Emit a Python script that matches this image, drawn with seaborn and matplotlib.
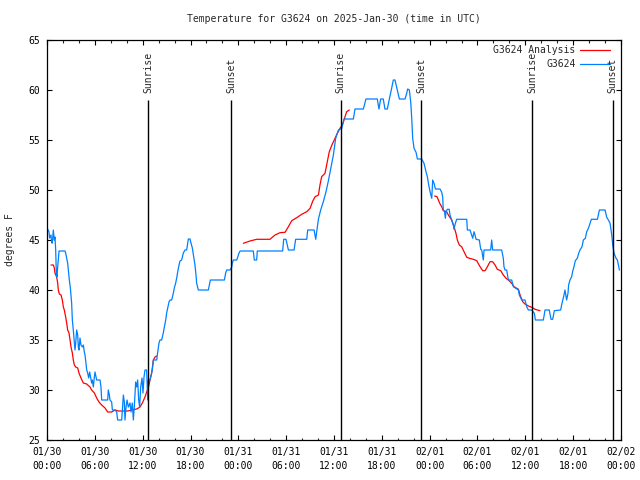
import pandas as pd
import matplotlib
matplotlib.use("Agg")
import matplotlib.pyplot as plt
import seaborn as sns

# hours since 2025-01-30 00:00 UTC
obs_hours = [
    0.08, 0.25, 0.33, 0.5, 0.59, 0.67, 0.79, 0.92, 1.0, 1.09, 1.17, 1.25, 1.34, 1.42, 1.51,
    2.26, 2.34, 2.47, 2.59, 2.68, 2.80, 2.93, 3.09, 3.18, 3.30, 3.43, 3.51, 3.60, 3.72,
    3.85, 3.93, 4.01, 4.14, 4.26, 4.43, 4.56, 4.68, 4.77, 4.98, 5.10, 5.23, 5.35, 5.48,
    5.60, 5.69, 5.81, 5.94, 6.02, 6.10, 6.23, 6.65, 6.77, 6.86, 7.61, 7.69, 7.82, 7.90,
    8.11, 8.20, 8.53, 8.74, 8.86, 9.37, 9.45, 9.58, 9.70, 9.78, 9.91, 10.04, 10.20, 10.41,
    10.54, 10.70, 10.83, 10.95, 11.12, 11.25, 11.37, 11.50, 11.62, 11.75, 11.92, 12.04,
    12.17, 12.29, 12.50, 12.63, 12.71, 12.92, 13.13, 13.21, 13.34, 13.76, 13.84, 13.97,
    14.05, 14.17, 14.38, 14.59, 14.72, 14.89, 15.01, 15.14, 15.30, 15.43, 15.64, 15.85,
    15.97, 16.14, 16.27, 16.39, 16.56, 16.68, 16.89, 17.10, 17.31, 17.52, 17.65, 17.73,
    17.94, 18.06, 18.23, 18.40, 18.56, 18.69, 18.77, 18.98, 20.24, 20.36, 20.49, 22.25,
    22.41, 22.54, 22.96, 23.17, 23.25, 23.38, 23.80, 23.92, 24.09, 24.22, 25.88, 26.0,
    26.3, 26.38, 29.56, 29.69, 29.98, 30.28, 30.99, 31.19, 32.58, 32.70, 33.50, 33.71,
    33.83, 34.05, 34.33, 34.66, 35.0, 35.29, 35.58, 35.92, 36.21, 36.55, 36.97, 37.26,
    38.43, 38.63, 39.68, 40.01, 41.43, 41.64, 41.85, 42.18, 42.39, 42.69, 42.94, 43.23,
    43.44, 43.65, 43.94, 44.20, 44.91, 45.12, 45.24, 45.45, 45.62, 45.75, 45.87, 46.04,
    46.29, 46.46, 47.0, 47.29, 47.54, 47.71, 47.88, 48.05, 48.26, 48.38, 48.55, 48.72,
    49.30, 49.51, 49.63, 49.71, 49.85, 49.97, 50.05, 50.22, 50.45, 50.55, 50.76, 50.97,
    51.05, 51.17, 51.30, 51.38, 52.65, 52.73, 53.06, 53.27, 53.40, 53.56, 53.69, 53.82,
    54.23, 54.40, 54.53, 54.73, 54.82, 55.65, 55.78, 55.90, 57.03, 57.24, 57.32, 57.45,
    57.66, 57.87, 58.29, 58.50, 59.13, 59.25, 59.55, 59.96, 60.17, 60.38, 60.80, 61.13,
    61.26, 62.26, 62.47, 63.0, 63.22, 63.43, 63.64, 64.43, 64.60, 64.85, 64.97, 65.18,
    65.35, 65.43, 65.60, 65.81, 65.93, 66.10, 66.27, 66.52, 66.69, 66.86, 67.11, 67.28,
    67.53, 67.70, 67.91, 68.11, 68.28, 69.04, 69.29, 70.0, 70.21, 70.42, 70.63, 70.84,
    70.96, 71.13, 71.38, 71.55, 71.80,
]
obs_temps = [
    46.1, 45.8, 45.2, 45.5, 44.7, 44.7, 46.0, 45.0, 45.3, 44.0, 41.7, 41.3, 42.3, 43.0, 43.9,
    43.9, 43.7, 43.2, 42.7, 42.0, 41.0, 40.2, 38.7, 37.0, 36.0, 34.7, 34.0, 34.7, 36.0,
    35.5, 34.3, 34.0, 35.2, 34.5, 34.3, 34.5, 33.8, 33.5, 32.0, 31.7, 31.2, 31.8, 31.2,
    30.7, 31.0, 30.3, 31.3, 31.8, 31.5, 31.0, 31.0, 30.3, 29.0, 29.0, 30.0, 29.5, 29.0,
    28.8, 28.0, 28.0, 27.8, 27.0, 27.0, 28.0, 29.5, 28.8, 27.0, 28.3, 29.0, 28.3, 28.7,
    27.8, 28.7, 27.0, 28.3, 30.8, 30.3, 31.0, 29.0, 28.3, 30.3, 31.2, 29.7,
    31.3, 32.0, 32.0, 29.0, 31.0, 31.0, 31.7, 32.0, 33.0, 33.0, 33.5, 34.2,
    34.7, 35.0, 35.0, 35.7, 36.3, 37.0, 37.7, 38.2, 38.8, 39.0, 39.0, 39.7,
    40.2, 40.7, 41.2, 41.8, 42.5, 42.9, 43.0, 43.7, 44.0, 44.0, 44.7, 45.1,
    45.1, 44.7, 44.2, 43.3, 42.5, 41.5, 40.7, 40.0, 40.0, 40.5, 41.0, 41.0,
    41.7, 42.0, 42.0, 42.3, 42.7, 43.0, 43.0, 43.3, 43.7, 43.9, 43.9, 43.0,
    43.0, 43.9, 43.9, 45.07, 45.07, 44.0, 44.0, 45.07, 45.07, 46.0, 46.0, 45.07,
    45.83, 47.1, 48.0, 48.83, 49.83, 50.9, 52.1, 53.5, 55.17, 56.0, 56.17, 57.1,
    57.1, 58.1, 58.1, 59.1, 59.1, 58.1, 59.1, 59.1, 58.1, 58.1, 59.1, 60.17,
    61.0, 61.0, 60.0, 59.1, 59.1, 59.67, 60.1, 60.0, 58.83, 57.17, 55.17, 54.17,
    53.77, 53.1, 53.1, 52.67, 51.83, 51.33, 50.5, 49.83, 49.17, 51.0, 50.67, 50.1,
    50.1, 49.77, 49.33, 48.0, 47.9, 47.17, 47.83, 48.07, 48.07, 47.5, 47.0, 46.5,
    46.07, 46.5, 46.83, 47.07, 47.07, 46.0, 46.0, 45.5, 45.17, 45.83, 45.5, 45.07,
    45.0, 44.07, 44.0, 43.0, 44.0, 44.0, 45.0, 44.0, 44.0, 43.17, 42.33, 42.0,
    42.0, 41.0, 41.0, 40.33, 40.0, 39.5, 39.0, 39.0, 38.33, 38.0, 38.0, 37.67,
    37.0, 37.0, 38.0, 38.0, 37.07, 37.07, 37.93, 38.0, 38.67, 39.5, 40.0, 39.0,
    39.67, 40.5, 41.0, 41.33, 41.83, 42.33, 42.93, 43.17, 43.67, 44.0, 44.33, 45.0,
    45.17, 45.83, 46.17, 46.67, 47.07, 47.07, 48.0, 48.0, 47.27, 47.0, 46.67, 45.5,
    44.5, 43.67, 43.17, 43.0, 42.0,
]

# analysis only exists in three pieces
ana1_hours = [0.50, 0.79, 0.92, 1.0, 1.21, 1.34, 1.42, 1.55, 1.76, 1.92, 2.05, 2.17, 2.34,
              2.47, 2.59, 2.76, 2.89, 3.01, 3.18, 3.30, 3.43, 3.60, 3.85, 4.01, 4.26, 4.56,
              4.98, 5.39, 5.60, 5.94, 6.23, 6.52, 6.86, 7.28, 7.61, 8.11, 8.53, 8.95, 9.58,
              10.12, 10.62, 11.25, 11.67, 11.96, 12.29, 12.50, 12.71, 12.92, 13.13, 13.34,
              13.55, 13.76]
ana1_temps = [42.5, 42.5, 42.2, 41.7, 41.3, 40.7, 40.0, 39.6, 39.5, 39.0, 38.3, 38.0, 37.3,
              36.7, 36.0, 35.7, 35.0, 34.3, 33.7, 33.0, 32.5, 32.3, 32.2, 31.7, 31.2, 30.7,
              30.6, 30.3, 30.0, 29.7, 29.2, 28.8, 28.5, 28.2, 27.8, 27.8, 28.0, 27.9, 27.9,
              27.9, 28.0, 28.1, 28.3, 28.7, 29.3, 29.8, 30.2, 31.0, 31.7, 33.0,
              33.3, 33.4]
ana2_hours = [24.63, 25.46, 26.30, 27.97, 28.60, 29.23, 29.86, 30.28, 30.70, 31.32, 31.95,
              32.58, 33.0, 33.34, 33.63, 34.05, 34.24, 34.45, 34.87, 35.16, 35.41, 35.70,
              36.13, 36.42, 36.75, 37.05, 37.25, 37.59, 37.92]
ana2_temps = [44.67, 44.9, 45.07, 45.07, 45.5, 45.73, 45.77, 46.33, 46.93, 47.23, 47.57,
              47.83, 48.17, 48.9, 49.33, 49.5, 50.5, 51.33, 51.67, 52.83, 53.83, 54.43,
              55.17, 55.67, 56.17, 56.5, 57.0, 57.83, 58.0]
ana3_hours = [48.63, 48.92, 49.26, 49.51, 49.71, 50.13, 50.34, 50.76, 51.05, 51.30, 51.47,
              51.72, 52.01, 52.31, 52.65, 52.98, 53.48, 53.90, 54.32, 54.65, 54.95, 55.24,
              55.57, 55.90, 56.20, 56.49, 56.91, 57.24, 57.58, 57.87, 58.29, 58.58, 59.13,
              59.34, 59.67, 59.96, 60.38, 60.80, 61.22, 61.84]
ana3_temps = [49.4, 49.33, 48.67, 48.33, 47.93, 47.83, 47.5, 47.0, 46.33, 45.67, 45.0,
              44.5, 44.33, 43.83, 43.27, 43.17, 43.07, 42.93, 42.33, 41.93, 41.93, 42.33,
              42.83, 42.83, 42.5, 42.07, 41.93, 41.5, 41.17, 41.0, 40.67, 40.33, 40.07,
              39.5, 38.83, 38.6, 38.4, 38.27, 38.07, 37.93]

sun_hours = [12.73, 23.07, 36.82, 46.95, 60.85, 70.97]
sun_labels = ["Sunrise", "Sunset", "Sunrise", "Sunset", "Sunrise", "Sunset"]

tick_hours = list(range(0, 73, 6))
tick_labels = ["01/30\n00:00", "01/30\n06:00", "01/30\n12:00", "01/30\n18:00",
               "01/31\n00:00", "01/31\n06:00", "01/31\n12:00", "01/31\n18:00",
               "02/01\n00:00", "02/01\n06:00", "02/01\n12:00", "02/01\n18:00",
               "02/02\n00:00"]

obs = pd.DataFrame({"hour": obs_hours, "temp": obs_temps})
ana = pd.concat([
    pd.DataFrame({"hour": ana1_hours, "temp": ana1_temps, "seg": 1}),
    pd.DataFrame({"hour": ana2_hours, "temp": ana2_temps, "seg": 2}),
    pd.DataFrame({"hour": ana3_hours, "temp": ana3_temps, "seg": 3}),
])

red = "#ff0000"
blue = "#0080ff"

sns.set_style("ticks")
plt.rcParams["font.family"] = ["DejaVu Sans Mono", "DejaVu Sans"]
plt.rcParams["font.size"] = 7

fig = plt.figure(figsize=(6.4, 4.8), dpi=100)
ax = fig.add_axes([47 / 640, 40 / 480, 574 / 640, 400 / 480])

sns.lineplot(data=ana, x="hour", y="temp", units="seg", estimator=None,
             color=red, linewidth=0.9, ax=ax)
sns.lineplot(data=obs, x="hour", y="temp", estimator=None,
             color=blue, linewidth=0.9, ax=ax)

for h, lab in zip(sun_hours, sun_labels):
    ax.vlines(h, 25, 59, color="black", linewidth=1.0)
    ax.text(h, 59.7, lab, rotation=90, ha="center", va="bottom", fontsize=7)

ax.set_xlim(0, 72)
ax.set_ylim(25, 65)
ax.set_xticks(tick_hours)
ax.set_xticklabels(tick_labels, linespacing=1.5)
ax.set_xticks(range(0, 73, 2), minor=True)
ax.set_yticks(range(25, 66, 5))
ax.tick_params(axis="both", which="major", direction="in", length=3.4, width=0.8,
               top=True, right=True, labelsize=7, colors="black")
ax.tick_params(axis="x", which="major", pad=5)
ax.tick_params(axis="y", which="major", pad=5)
ax.tick_params(axis="x", which="minor", direction="in", length=1.8, width=0.8,
               top=True)
for s in ax.spines.values():
    s.set_visible(True)
    s.set_linewidth(0.9)
    s.set_color("black")

ax.set_xlabel("")
ax.set_ylabel("degrees F", fontsize=7)
ax.yaxis.set_label_coords(-0.056, 0.5)
ax.set_title("Temperature for G3624 on 2025-Jan-30 (time in UTC)", fontsize=7, pad=13)

# legend drawn by hand so the text sits right-aligned like gnuplot
leg_rows = [("G3624 Analysis", red, 0.975), ("G3624", blue, 0.94)]
for name, col, yy in leg_rows:
    ax.text(0.921, yy, name, transform=ax.transAxes, ha="right", va="center", fontsize=7)
    ax.plot([0.928, 0.981], [yy, yy], transform=ax.transAxes, color=col,
            linewidth=0.9, clip_on=False)

fig.savefig("out.png", dpi=100)
